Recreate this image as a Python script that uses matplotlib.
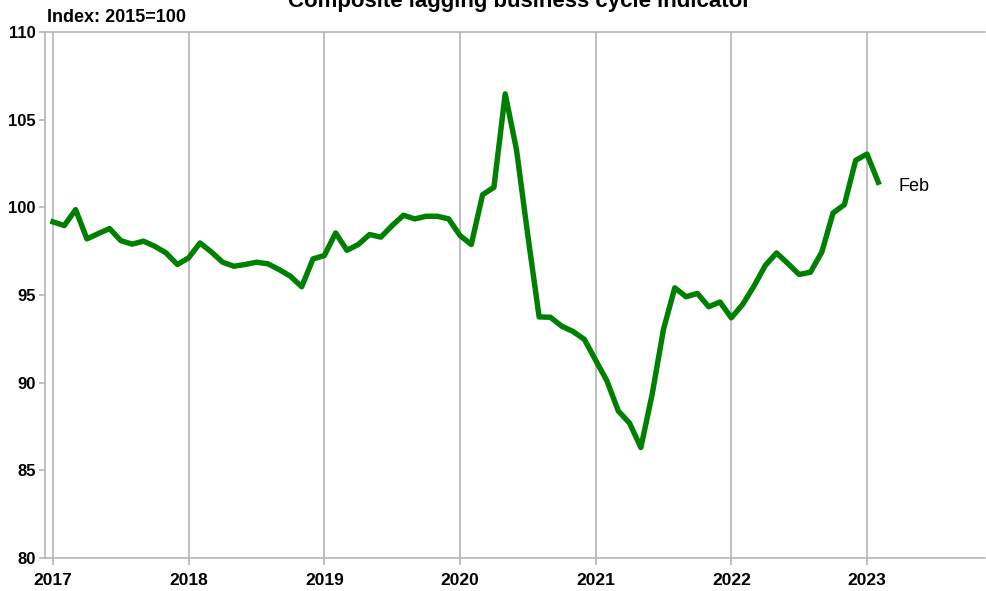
import matplotlib
matplotlib.use("Agg")
import matplotlib.pyplot as plt
from matplotlib import font_manager
import pandas as pd

# ---- data ----
start_month = "2017-01"
n_months = 74
values = [
    99.17, 98.96, 99.87, 98.20, 98.50, 98.79, 98.10, 97.90, 98.07, 97.78, 97.40, 96.74,   # 2017
    97.12, 97.97, 97.46, 96.87, 96.64, 96.74, 96.87, 96.78, 96.45, 96.07, 95.47, 97.06,   # 2018
    97.25, 98.54, 97.55, 97.88, 98.45, 98.30, 98.96, 99.55, 99.34, 99.49, 99.49, 99.34,   # 2019
    98.39, 97.88, 100.72, 101.14, 106.47, 103.28, 98.40, 93.75, 93.73, 93.22, 92.92, 92.47,  # 2020
    91.28, 90.10, 88.39, 87.69, 86.30, 89.34, 93.04, 95.41, 94.90, 95.09, 94.33, 94.60,   # 2021
    93.70, 94.46, 95.50, 96.68, 97.40, 96.80, 96.17, 96.30, 97.44, 99.68, 100.15, 102.68,  # 2022
    103.04, 101.43,                                                                      # 2023
]
year_ticks = [2017, 2018, 2019, 2020, 2021, 2022, 2023]
y_ticks = [80, 85, 90, 95, 100, 105, 110]
title = "Composite lagging business cycle indicator"
unit_label = "Index: 2015=100"
last_label = "Feb"

# ---- fonts ----
names = {f.name for f in font_manager.fontManager.ttflist}
narrow = "Liberation Sans Narrow" if "Liberation Sans Narrow" in names else "Liberation Sans"
regular = "Liberation Sans"

dates = pd.date_range(start_month, periods=n_months, freq="MS")
x = dates.year + (dates.month - 1) / 12.0

W, H = 986, 591
fig = plt.figure(figsize=(W / 100, H / 100), dpi=100)
ax = fig.add_axes([45 / W, 1 - 558 / H, 940 / W, (558 - 32) / H])

grid_c = "#b4b4b4"
ax.plot(x, values, color="#008000", lw=3.9, zorder=3)

ax.set_xlim(2016.941, 2023.87)
ax.set_ylim(80, 110)
ax.set_xticks(year_ticks)
ax.set_xticklabels([str(y) for y in year_ticks], fontfamily=narrow, fontweight="bold", fontsize=12.5)
ax.set_yticks(y_ticks)
ax.set_yticklabels([str(v) for v in y_ticks], fontfamily=narrow, fontweight="bold", fontsize=12)

ax.grid(axis="x", color=grid_c, lw=1.2)
ax.tick_params(axis="x", length=5, width=1.2, color=grid_c, pad=5.5, labelcolor="black")
ax.tick_params(axis="y", length=4.3, width=1.2, color=grid_c, pad=2.5, labelcolor="black")
for s in ["left", "bottom", "top"]:
    ax.spines[s].set_color(grid_c)
    ax.spines[s].set_linewidth(1.2)
ax.spines["right"].set_visible(False)

ax.annotate(last_label, xy=(x[-1], values[-1]), xytext=(20, -4), textcoords="offset pixels",
            fontfamily=narrow, fontsize=13, ha="left", va="center")

fig.text(47 / W, 1 - 17 / H, unit_label, fontfamily=regular, fontweight="bold",
         fontsize=13, ha="left", va="center")
fig.text(519 / W, 1 - 7 / H, title, fontfamily=regular, fontweight="bold",
         fontsize=16, ha="center", va="baseline")

fig.savefig("out.png", dpi=100)
